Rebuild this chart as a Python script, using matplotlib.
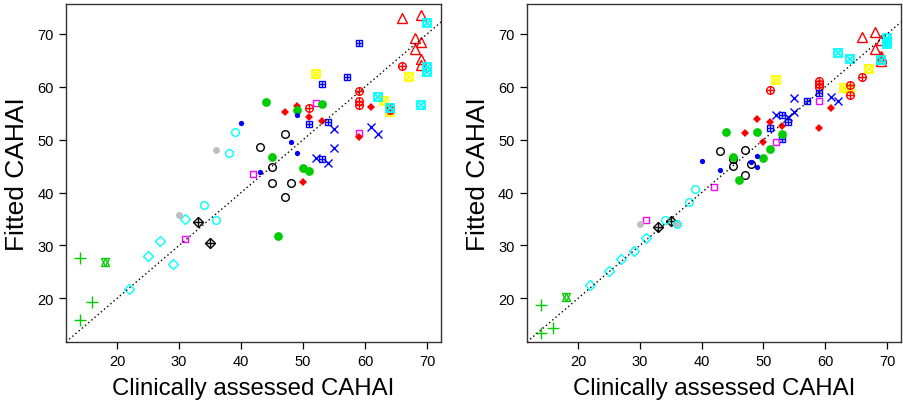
import matplotlib
matplotlib.use("Agg")
import matplotlib.pyplot as plt

plt.rcParams['font.family'] = ['Liberation Sans', 'DejaVu Sans']

# clinically assessed CAHAI (x) and fitted CAHAI for the two models (left, right)
black_circle_x = [43, 45, 45, 47, 47, 48]
black_circle_left = [48.7, 44.8, 41.9, 51.0, 39.2, 41.8]
black_circle_right = [47.9, 45.0, 46.4, 48.0, 43.3, 45.4]

red_triangle_x = [66, 68, 68, 69, 69, 69, 69]
red_triangle_left = [73.0, 69.2, 67.2, 73.6, 68.5, 65.3, 64.1]
red_triangle_right = [69.5, 70.3, 67.2, 68.9, 65.9, 64.8, 65.4]

green_plus_x = [14, 14, 16]
green_plus_left = [27.6, 15.9, 19.3]
green_plus_right = [18.7, 13.4, 14.4]

blue_cross_x = [52, 54, 55, 55, 61, 62]
blue_cross_left = [46.5, 45.6, 52.1, 48.4, 52.4, 51.1]
blue_cross_right = [54.6, 54.2, 57.9, 55.3, 58.1, 57.3]

cyan_diamond_x = [22, 25, 27, 29, 31]
cyan_diamond_left = [21.7, 28.1, 30.9, 26.5, 35.0]
cyan_diamond_right = [22.5, 25.1, 27.4, 28.9, 31.5]

yellow_sqx_x = [52, 63, 64, 67]
yellow_sqx_left = [62.5, 57.4, 55.3, 61.9]
yellow_sqx_right = [61.2, 59.7, 59.6, 63.3]

black_dplus_x = [33, 35]
black_dplus_left = [34.4, 30.4]
black_dplus_right = [33.5, 34.6]

red_cplus_x = [51, 59, 59, 59, 64, 64, 66]
red_cplus_left = [56.0, 59.2, 57.3, 56.5, 56.1, 55.6, 63.9]
red_cplus_right = [59.4, 61.0, 60.5, 60.0, 60.4, 58.4, 61.8]

green_star_x = [18]
green_star_left = [26.9]
green_star_right = [20.25]

blue_splus_x = [51, 53, 53, 54, 57, 59]
blue_splus_left = [53.0, 60.5, 46.3, 53.3, 61.8, 68.2]
blue_splus_right = [52.2, 54.6, 50.1, 53.3, 57.3, 58.9]

cyan_sqx_x = [62, 64, 69, 70, 70, 70]
cyan_sqx_left = [58.1, 56.0, 56.5, 72.1, 63.7, 62.7]
cyan_sqx_right = [66.3, 65.3, 65.1, 69.3, 68.5, 68.0]

magenta_sq_x = [31, 42, 52, 59]
magenta_sq_left = [31.2, 43.6, 57.0, 51.3]
magenta_sq_right = [34.9, 41.1, 49.5, 57.4]

gray_dot_x = [30, 36]
gray_dot_left = [35.8, 48.0]
gray_dot_right = [34.0, 34.1]

red_diamond_x = [47, 49, 50, 51, 53, 59, 61]
red_diamond_left = [55.2, 56.4, 42.0, 54.2, 53.6, 50.6, 56.1]
red_diamond_right = [51.2, 53.9, 49.6, 53.4, 52.6, 52.2, 56.0]

green_dot_x = [44, 45, 46, 49, 50, 51, 53]
green_dot_left = [57.2, 46.8, 31.7, 55.6, 44.6, 44.1, 56.8]
green_dot_right = [51.5, 46.8, 42.4, 51.5, 46.5, 48.2, 51.1]

blue_dot_x = [40, 43, 48, 49, 49]
blue_dot_left = [53.2, 43.95, 49.6, 54.6, 47.4]
blue_dot_right = [46.0, 44.3, 45.8, 47.0, 44.8]

cyan_circle_x = [34, 36, 38, 39]
cyan_circle_left = [37.6, 34.8, 47.4, 51.5]
cyan_circle_right = [34.9, 34.1, 38.2, 40.7]

BLACK, RED, GREEN, BLUE = '#000000', '#FF0000', '#00CD00', '#0000FF'
CYAN, MAGENTA, YELLOW, GRAY = '#00FFFF', '#FF00FF', '#FFFF00', '#BEBEBE'

# (x, left y, right y, colour, list of (marker, size, filled, edge width))
groups = [
    (black_circle_x, black_circle_left, black_circle_right, BLACK, [('o', 5.5, False, 1.0)]),
    (red_triangle_x, red_triangle_left, red_triangle_right, RED, [('^', 7, False, 1.0)]),
    (green_plus_x, green_plus_left, green_plus_right, GREEN, [('+', 8, False, 1.0)]),
    (blue_cross_x, blue_cross_left, blue_cross_right, BLUE, [('x', 6, False, 1.0)]),
    (cyan_diamond_x, cyan_diamond_left, cyan_diamond_right, CYAN, [('D', 5, False, 1.0)]),
    (yellow_sqx_x, yellow_sqx_left, yellow_sqx_right, YELLOW, [('s', 5.3, False, 1.3), ('x', 4.8, False, 1.3)]),
    (black_dplus_x, black_dplus_left, black_dplus_right, BLACK, [('D', 5, False, 1.0), ('+', 7, False, 1.0)]),
    (red_cplus_x, red_cplus_left, red_cplus_right, RED, [('o', 5.5, False, 1.0), ('+', 5.5, False, 1.0)]),
    (green_star_x, green_star_left, green_star_right, GREEN, [('^', 6, False, 1.0), ('v', 6, False, 1.0)]),
    (blue_splus_x, blue_splus_left, blue_splus_right, BLUE, [('s', 5, False, 1.0), ('+', 5, False, 1.0)]),
    (cyan_sqx_x, cyan_sqx_left, cyan_sqx_right, CYAN, [('s', 5.3, False, 1.3), ('x', 4.8, False, 1.3)]),
    (magenta_sq_x, magenta_sq_left, magenta_sq_right, MAGENTA, [('s', 5, False, 1.0)]),
    (gray_dot_x, gray_dot_left, gray_dot_right, GRAY, [('o', 5, True, 0)]),
    (red_diamond_x, red_diamond_left, red_diamond_right, RED, [('D', 3.6, True, 0)]),
    (green_dot_x, green_dot_left, green_dot_right, GREEN, [('o', 6.3, True, 0)]),
    (blue_dot_x, blue_dot_left, blue_dot_right, BLUE, [('o', 3.8, True, 0)]),
    (cyan_circle_x, cyan_circle_left, cyan_circle_right, CYAN, [('o', 5.5, False, 1.0)]),
]

fig = plt.figure(figsize=(9.04, 4.10), dpi=100)
ax1 = fig.add_axes([66 / 904, 67 / 410, 375 / 904, 338 / 410])
ax2 = fig.add_axes([527 / 904, 67 / 410, 374 / 904, 338 / 410])

for k, ax in enumerate([ax1, ax2]):
    for x, yl, yr, col, marks in groups:
        y = yl if k == 0 else yr
        for m, s, filled, ew in marks:
            ax.plot(x, y, linestyle='none', marker=m, markersize=s,
                    markeredgecolor=col, markerfacecolor=col if filled else 'none',
                    markeredgewidth=ew)
    ax.axline((20, 20), slope=1, color='black', linestyle=(0, (1, 2)), linewidth=1)
    ax.set_xlim(11.76, 72.24)
    ax.set_ylim(11.75, 75.65)
    ax.set_xticks(range(20, 71, 10))
    ax.set_yticks(range(20, 71, 10))
    ax.tick_params(direction='out', length=5, width=0.9, labelsize=10.5, pad=4)
    for sp in ax.spines.values():
        sp.set_color('#333333')
        sp.set_linewidth(1.0)
    ax.set_xlabel('Clinically assessed CAHAI', fontsize=17.3, labelpad=6)
    ax.set_ylabel('Fitted CAHAI', fontsize=19, labelpad=6)

fig.savefig('out.png', dpi=100)
